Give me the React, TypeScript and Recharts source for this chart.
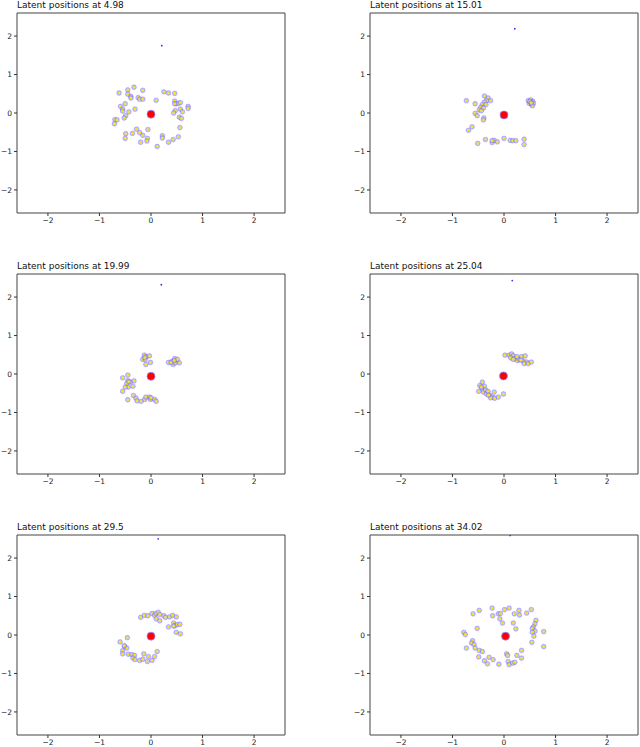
import { ScatterChart, Scatter, XAxis, YAxis, ReferenceArea } from 'recharts'

type Pt = [number, number]

const titles = ['4.98', '15.01', '19.99', '25.04', '29.5', '34.02']

const centers: Pt[] = [
  [0, -0.03], [0, -0.05], [0, -0.06], [-0.01, -0.05], [0, -0.03], [0.03, -0.03],
]

const outliers: Pt[] = [
  [0.21, 1.75], [0.21, 2.19], [0.2, 2.32], [0.16, 2.43], [0.14, 2.5], [0.12, 2.59],
]

const pos498: Pt[] = [
  [-0.62, 0.52], [-0.45, 0.6], [-0.33, 0.67], [-0.16, 0.59], [-0.45, 0.49], [-0.39, 0.43],
  [-0.39, 0.39], [-0.25, 0.4], [-0.22, 0.36], [-0.16, 0.36], [-0.5, 0.24], [-0.59, 0.17],
  [-0.55, 0.1], [-0.55, 0.05], [-0.31, 0.1], [-0.43, 0.03], [-0.49, -0.07], [-0.52, -0.13],
  [-0.7, -0.17], [-0.66, -0.18], [-0.71, -0.28], [0.1, 0.33], [0.25, 0.55], [0.34, 0.52],
  [0.46, 0.51], [0.46, 0.31], [0.49, 0.24], [0.53, 0.25], [0.57, 0.27], [0.46, 0.24],
  [0.72, 0.17], [0.72, 0.12], [0.57, 0.1], [0.47, 0.06], [0.44, 0.0], [0.61, 0.03],
  [0.55, -0.11], [0.59, -0.14], [0.56, -0.38], [0.53, -0.62], [0.43, -0.69], [0.34, -0.76],
  [0.22, -0.59], [0.22, -0.65], [0.12, -0.87], [-0.06, -0.43], [-0.07, -0.66], [-0.08, -0.73],
  [-0.2, -0.76], [-0.16, -0.58], [-0.22, -0.51], [-0.28, -0.42], [-0.36, -0.53], [-0.49, -0.54],
  [-0.5, -0.66],
]

const pos1501: Pt[] = [
  [0.47, 0.32], [0.52, 0.34], [0.56, 0.3], [0.49, 0.25], [0.54, 0.22], [0.57, 0.25],
  [0.52, 0.28], [0.55, 0.19], [0.5, 0.3], [0.53, 0.26],
  [-0.73, 0.32], [-0.56, 0.24], [-0.38, 0.44], [-0.31, 0.39], [-0.26, 0.32], [-0.34, 0.32],
  [-0.38, 0.28], [-0.42, 0.22], [-0.35, 0.22], [-0.45, 0.15], [-0.4, 0.13], [-0.48, 0.08],
  [-0.44, 0.06], [-0.56, -0.01], [-0.52, -0.07], [-0.39, -0.13], [-0.4, -0.18], [-0.62, -0.36],
  [-0.69, -0.45],
  [-0.51, -0.79], [-0.36, -0.69], [-0.23, -0.77], [-0.19, -0.71], [-0.13, -0.75], [0.0, -0.66],
  [0.12, -0.71], [0.17, -0.72], [0.23, -0.72], [0.39, -0.68], [0.39, -0.82], [-0.23, -0.72],
]

const pos1999: Pt[] = [
  [-0.13, 0.49], [-0.09, 0.45], [-0.03, 0.47], [-0.16, 0.38], [-0.11, 0.38], [-0.01, 0.3],
  [-0.1, 0.25], [-0.12, 0.43],
  [0.34, 0.3], [0.41, 0.33], [0.46, 0.4], [0.49, 0.33], [0.43, 0.25], [0.47, 0.29],
  [0.55, 0.29], [0.51, 0.38], [0.39, 0.3], [0.45, 0.35],
  [-0.55, -0.1], [-0.45, -0.03], [-0.45, -0.17], [-0.4, -0.21], [-0.47, -0.25], [-0.33, -0.18],
  [-0.44, -0.34], [-0.35, -0.32], [-0.5, -0.34], [-0.55, -0.45], [-0.43, -0.2],
  [-0.34, -0.56], [-0.29, -0.63], [-0.27, -0.7], [-0.19, -0.71], [-0.12, -0.66], [-0.1, -0.6],
  [-0.03, -0.6], [-0.01, -0.66], [0.07, -0.66], [0.1, -0.71], [-0.45, -0.67], [0.0, -0.62],
]

const pos2504: Pt[] = [
  [0.02, 0.49], [0.1, 0.49], [0.15, 0.52], [0.18, 0.47], [0.13, 0.42], [0.21, 0.4],
  [0.26, 0.35], [0.3, 0.38], [0.34, 0.45], [0.41, 0.47], [0.38, 0.33], [0.44, 0.31],
  [0.39, 0.27], [0.47, 0.27], [0.53, 0.31], [0.25, 0.45], [0.18, 0.38], [0.33, 0.36],
  [-0.42, -0.21], [-0.47, -0.3], [-0.42, -0.38], [-0.49, -0.45], [-0.4, -0.47], [-0.36, -0.41],
  [-0.34, -0.52], [-0.31, -0.45], [-0.27, -0.56], [-0.22, -0.6], [-0.18, -0.63], [-0.19, -0.47],
  [-0.11, -0.6], [-0.01, -0.52], [-0.38, -0.32], [-0.26, -0.62], [-0.44, -0.34], [-0.3, -0.55],
]

const pos295: Pt[] = [
  [-0.2, 0.46], [-0.13, 0.51], [-0.06, 0.5], [0.02, 0.56], [0.07, 0.51], [0.1, 0.56],
  [0.14, 0.59], [0.17, 0.53], [0.1, 0.42], [0.17, 0.37], [0.25, 0.5], [0.28, 0.46],
  [0.36, 0.47], [0.42, 0.51], [0.49, 0.47], [0.34, 0.21], [0.44, 0.31], [0.46, 0.24],
  [0.51, 0.27], [0.56, 0.28], [0.49, 0.07], [0.57, 0.03], [0.44, 0.23],
  [-0.6, -0.18], [-0.46, -0.07], [-0.51, -0.3], [-0.47, -0.34], [-0.55, -0.41], [-0.55, -0.49],
  [-0.44, -0.5], [-0.37, -0.51], [-0.32, -0.53], [-0.35, -0.6], [-0.31, -0.64], [-0.22, -0.66],
  [-0.14, -0.49], [-0.16, -0.63], [-0.07, -0.69], [-0.05, -0.56], [0.02, -0.66], [0.07, -0.56],
  [0.12, -0.43], [-0.52, -0.28],
]

const pos3402: Pt[] = [
  [-0.78, 0.07], [-0.75, 0.01], [-0.73, -0.34], [-0.6, 0.55], [-0.48, 0.64], [-0.52, 0.17],
  [-0.61, -0.15], [-0.63, -0.21], [-0.58, -0.25], [-0.56, -0.34], [-0.48, -0.4], [-0.42, -0.43],
  [-0.49, -0.57], [-0.38, -0.67], [-0.32, -0.75], [-0.29, -0.58], [-0.21, -0.64], [-0.1, -0.76],
  [-0.23, 0.7], [-0.22, 0.5], [-0.11, 0.55], [-0.07, 0.56], [0.01, 0.66], [0.1, 0.7],
  [-0.08, 0.42], [-0.03, 0.31], [0.2, 0.55], [0.18, 0.31], [0.23, 0.16], [0.29, 0.64],
  [0.3, 0.52], [0.44, 0.57], [0.53, 0.66], [0.62, 0.38], [0.6, 0.29], [0.57, 0.21],
  [0.55, 0.17], [0.6, 0.1], [0.55, 0.07], [0.58, -0.03], [0.54, -0.19], [0.77, 0.09],
  [0.77, -0.3], [0.34, -0.4], [0.34, -0.6], [0.25, -0.53], [0.05, -0.49], [0.07, -0.53],
  [0.08, -0.69], [0.1, -0.77], [0.17, -0.73], [0.21, -0.71],
]

const positions = [pos498, pos1501, pos1999, pos2504, pos295, pos3402]

const ticks = [-2, -1, 0, 1, 2]
const domain: [number, number] = [-2.6, 2.6]

// plot-area placement on the page
const colLeft = [17, 370]
const rowTop = [13, 274, 535]
const plotW = 268
const plotH = 200
const yAxisW = 30
const mTop = 12
const mRight = 6
const xAxisH = 22

const toObj = (p: Pt) => ({ x: p[0], y: p[1] })
const fmt = (v: number) => String(v).replace('-', '\u2212')

// latent node: translucent blue disc with a small yellow core
const LatentDot = (props: any) => {
  const { cx, cy } = props
  if (cx == null || cy == null) return null
  return (
    <g>
      <circle cx={cx} cy={cy} r={2.4} fill="#a4a4ff" fillOpacity={0.7} stroke="#4646ff" strokeOpacity={0.45} strokeWidth={0.6} />
      <circle cx={cx} cy={cy} r={1.3} fill="#ffe11a" />
    </g>
  )
}

const CenterDot = (props: any) => {
  const { cx, cy } = props
  if (cx == null || cy == null) return null
  return <circle cx={cx} cy={cy} r={4} fill="#ff0000" stroke="#8888ff" strokeWidth={0.8} />
}

const TinyDot = (props: any) => {
  const { cx, cy } = props
  if (cx == null || cy == null) return null
  return <circle cx={cx} cy={cy} r={0.9} fill="#3333ff" />
}

const tickStyle = { fontSize: 7.5, fill: '#222', fontFamily: 'DejaVu Sans' }

function Panel({ idx }: { idx: number }) {
  const col = idx % 2
  const row = Math.floor(idx / 2)
  const left = colLeft[col]
  const top = rowTop[row]
  return (
    <>
      <div
        style={{
          position: 'absolute',
          left,
          top: top - 12,
          fontFamily: 'DejaVu Sans',
          fontSize: 9,
          lineHeight: '9px',
          color: '#111',
          whiteSpace: 'nowrap',
        }}
      >
        Latent positions at {titles[idx]}
      </div>
      <div style={{ position: 'absolute', left: left - yAxisW, top: top - mTop }}>
        <ScatterChart
          width={yAxisW + plotW + mRight}
          height={mTop + plotH + xAxisH}
          margin={{ top: mTop, right: mRight, bottom: 0, left: 0 }}
        >
          <XAxis
            type="number"
            dataKey="x"
            domain={domain}
            ticks={ticks}
            allowDataOverflow
            height={xAxisH}
            tick={tickStyle}
            tickFormatter={fmt}
            tickSize={3}
            tickMargin={2}
            stroke="#333"
            axisLine={false}
          />
          <YAxis
            type="number"
            dataKey="y"
            domain={domain}
            ticks={ticks}
            allowDataOverflow
            width={yAxisW}
            tick={tickStyle}
            tickFormatter={fmt}
            tickSize={3}
            tickMargin={2}
            stroke="#333"
            axisLine={false}
          />
          <ReferenceArea x1={-2.6} x2={2.6} y1={-2.6} y2={2.6} fill="none" stroke="#444" strokeWidth={1} />
          <Scatter data={positions[idx].map(toObj)} shape={LatentDot} isAnimationActive={false} />
          <Scatter data={[toObj(outliers[idx])]} shape={TinyDot} isAnimationActive={false} />
          <Scatter data={[toObj(centers[idx])]} shape={CenterDot} isAnimationActive={false} />
        </ScatterChart>
      </div>
    </>
  )
}

export default function App() {
  return (
    <div style={{ position: 'absolute', left: 0, top: 0, width: 640, height: 747, background: '#fff' }}>
      {titles.map((_, i) => (
        <Panel key={i} idx={i} />
      ))}
    </div>
  )
}
